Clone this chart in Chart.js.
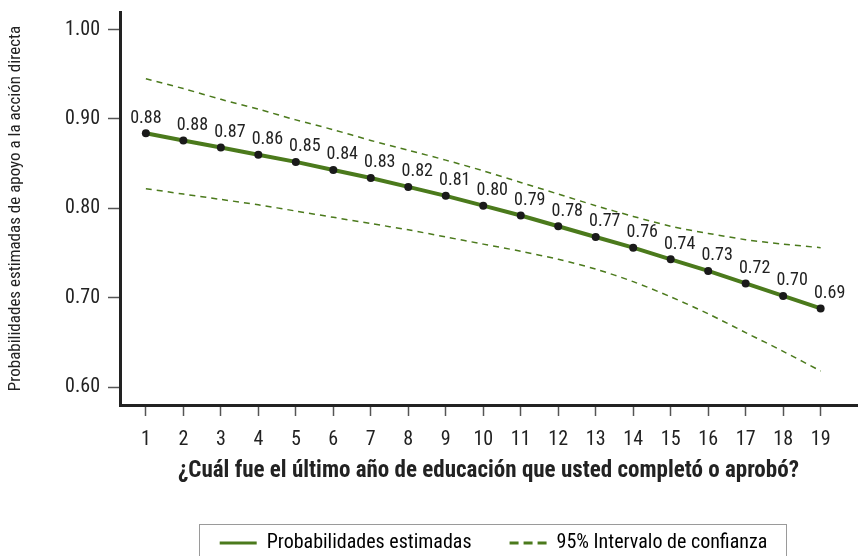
<!DOCTYPE html>
<html>
<head>
<meta charset="utf-8">
<script src="https://cdn.jsdelivr.net/npm/chart.js@4"></script>
<style>
  html, body { margin: 0; padding: 0; background: #fff; }
  #wrap { width: 861px; height: 556px; }
</style>
</head>
<body>
<div id="wrap"><canvas id="chart" width="861" height="556"></canvas></div>
<script>
const years = [1, 2, 3, 4, 5, 6, 7, 8, 9, 10, 11, 12, 13, 14, 15, 16, 17, 18, 19];
const estimated = [0.884, 0.876, 0.868, 0.860, 0.852, 0.843, 0.834, 0.824, 0.814, 0.803,
  0.792, 0.780, 0.768, 0.756, 0.743, 0.730, 0.716, 0.702, 0.688];
const upperCI = [0.945, 0.934, 0.922, 0.911, 0.899, 0.888, 0.876, 0.865, 0.854, 0.842,
  0.829, 0.816, 0.803, 0.791, 0.780, 0.772, 0.765, 0.760, 0.756];
const lowerCI = [0.822, 0.816, 0.810, 0.804, 0.797, 0.790, 0.783, 0.776, 0.768, 0.760,
  0.752, 0.743, 0.732, 0.718, 0.701, 0.682, 0.661, 0.640, 0.618];
const valueLabels = ["0.88", "0.88", "0.87", "0.86", "0.85", "0.84", "0.83", "0.82", "0.81", "0.80",
  "0.79", "0.78", "0.77", "0.76", "0.74", "0.73", "0.72", "0.70", "0.69"];
const yTicks = [0.6, 0.7, 0.8, 0.9, 1.0];

const FONT = "'Roboto Condensed', 'DejaVu Sans Condensed', sans-serif";
const GREEN = "#4b7a1c";
const DARK = "#222222";

const pts = (vals) => years.map((x, i) => ({ x: x, y: vals[i] }));

// value labels over the points
const valueLabelPlugin = {
  id: "valueLabels",
  afterDatasetsDraw(chart) {
    const meta = chart.getDatasetMeta(0);
    const ctx = chart.ctx;
    ctx.save();
    ctx.font = "18px " + FONT;
    ctx.fillStyle = DARK;
    ctx.textAlign = "center";
    ctx.textBaseline = "middle";
    meta.data.forEach((p, i) => {
      const dx = i === 0 ? 0 : 9;
      ctx.fillText(valueLabels[i], p.x + dx, p.y - 15);
    });
    ctx.restore();
  }
};

// grey frame round the legend, legend nudged a little to the right
const legendFrame = {
  id: "legendFrame",
  afterLayout(chart) {
    chart.legend.left += 5;
    chart.legend.right += 5;
  },
  afterDraw(chart) {
    const hb = chart.legend.legendHitBoxes;
    if (!hb || !hb.length) return;
    const first = hb[0], last = hb[hb.length - 1];
    const ctx = chart.ctx;
    ctx.save();
    ctx.strokeStyle = "#9a9a9a";
    ctx.lineWidth = 1;
    const left = Math.round(first.left - 21) + 0.5;
    const right = Math.round(last.left + last.width + 19) + 0.5;
    const top = Math.round(first.top + first.height / 2 - 19) + 0.5;
    ctx.strokeRect(left, top, right - left, 100);
    ctx.restore();
  }
};

new Chart(document.getElementById("chart"), {
  type: "line",
  data: {
    datasets: [
      {
        label: "Probabilidades estimadas",
        data: pts(estimated),
        borderColor: GREEN,
        borderWidth: 4,
        pointRadius: 4,
        pointBackgroundColor: "#1a1a1a",
        pointBorderWidth: 0,
        tension: 0,
        order: 0
      },
      {
        label: "95% Intervalo de confianza",
        data: pts(upperCI),
        borderColor: GREEN,
        borderWidth: 1.5,
        borderDash: [6, 5],
        pointRadius: 0,
        tension: 0.3,
        order: 1
      },
      {
        label: "lower",
        data: pts(lowerCI),
        borderColor: GREEN,
        borderWidth: 1.5,
        borderDash: [6, 5],
        pointRadius: 0,
        tension: 0.3,
        order: 1
      }
    ]
  },
  options: {
    responsive: false,
    animation: false,
    layout: { padding: { left: 0, right: 0, top: 12, bottom: -7 } },
    plugins: {
      tooltip: { enabled: false },
      legend: {
        position: "bottom",
        fullSize: false,
        labels: {
          padding: 38,
          usePointStyle: true,
          pointStyleWidth: 37,
          color: DARK,
          font: { family: FONT, size: 20 },
          generateLabels: (chart) => chart.data.datasets.slice(0, 2).map((ds, i) => ({
            text: ds.label,
            datasetIndex: i,
            pointStyle: "line",
            fillStyle: GREEN,
            strokeStyle: GREEN,
            lineWidth: 3,
            lineDash: i === 0 ? [] : [9, 5],
            hidden: false
          }))
        }
      }
    },
    scales: {
      x: {
        type: "linear",
        min: 0.31,
        max: 19.97,
        afterBuildTicks: (s) => { s.ticks = years.map((v) => ({ value: v })); },
        afterFit: (s) => { s.height = 90; s.paddingLeft = 0; s.paddingRight = 0; },
        ticks: {
          color: DARK,
          padding: 12,
          font: { family: FONT, size: 20 },
          maxRotation: 0
        },
        grid: {
          drawOnChartArea: false,
          drawTicks: true,
          tickLength: 11,
          tickColor: "#555",
          tickWidth: 1.5
        },
        border: { color: DARK, width: 3 },
        title: {
          display: true,
          text: "¿Cuál fue el último año de educación que usted completó o aprobó?",
          color: DARK,
          font: { family: FONT, size: 23, weight: "bold" },
          padding: { top: 0, bottom: 10 }
        }
      },
      y: {
        min: 0.58,
        max: 1.0197,
        afterBuildTicks: (s) => { s.ticks = yTicks.map((v) => ({ value: v })); },
        afterFit: (s) => { s.width = 120; s.paddingTop = 0; s.paddingBottom = 0; },
        ticks: {
          color: DARK,
          padding: 8,
          font: { family: FONT, size: 20 },
          callback: (v) => v.toFixed(2)
        },
        grid: {
          drawOnChartArea: false,
          drawTicks: true,
          tickLength: 12,
          tickColor: "#555",
          tickWidth: 1.5
        },
        border: { color: DARK, width: 3 },
        title: {
          display: true,
          text: "Probabilidades estimadas de apoyo a la acción directa",
          color: DARK,
          font: { family: FONT, size: 17 },
          padding: { top: 6, bottom: 0 }
        }
      }
    }
  },
  plugins: [valueLabelPlugin, legendFrame]
});
</script>
</body>
</html>
